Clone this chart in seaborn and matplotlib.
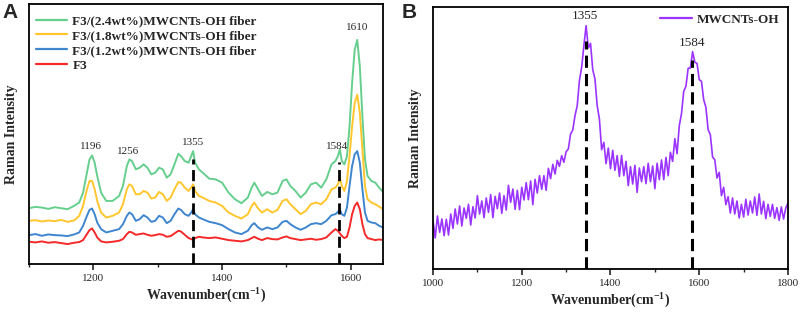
import numpy as np
import pandas as pd
import matplotlib
matplotlib.use("Agg")
import matplotlib.pyplot as plt
import seaborn as sns
from matplotlib.ticker import MultipleLocator

# ---------------- Panel A data ----------------
wn_A = [1100, 1110, 1120, 1130, 1140, 1150, 1160, 1170, 1178, 1184, 1190, 1194, 1198, 1202, 1206,
        1212, 1220, 1230, 1240, 1246, 1252, 1256, 1260, 1266, 1272, 1278, 1284, 1290, 1296, 1302,
        1308, 1314, 1320, 1326, 1332, 1336, 1342, 1348, 1352, 1355, 1358, 1364, 1370, 1380, 1390,
        1400, 1410, 1420, 1430, 1440, 1446, 1450, 1456, 1462, 1470, 1478, 1486, 1494, 1500, 1506,
        1514, 1522, 1530, 1538, 1546, 1554, 1562, 1570, 1576, 1580, 1583, 1586, 1590, 1594, 1598,
        1602, 1606, 1610, 1614, 1618, 1622, 1626, 1632, 1638, 1644, 1650]

green_A = [168, 172, 170, 166, 171, 168, 165, 175, 185, 215, 275, 315, 327, 305, 265,
           215, 190, 190, 205, 235, 295, 315, 310, 285, 290, 300, 290, 270, 275, 290,
           285, 260, 270, 300, 332, 325, 310, 305, 325, 340, 305, 285, 275, 257, 255,
           245, 215, 195, 183, 200, 230, 245, 225, 205, 217, 210, 215, 250, 255, 235,
           220, 200, 215, 240, 245, 230, 255, 300, 310, 325, 345, 310, 300, 325, 415,
           545, 645, 675, 595, 445, 315, 265, 250, 245, 230, 217]

yellow_A = [130, 132, 128, 131, 129, 133, 127, 131, 145, 175, 225, 250, 250, 225, 190,
            155, 140, 145, 155, 180, 225, 240, 235, 210, 210, 220, 215, 197, 200, 217,
            210, 190, 200, 225, 247, 245, 230, 220, 230, 240, 220, 205, 200, 190, 185,
            175, 155, 145, 137, 150, 175, 185, 167, 155, 165, 155, 163, 190, 195, 180,
            165, 150, 160, 180, 185, 180, 195, 225, 230, 240, 260, 235, 220, 250, 325,
            415, 485, 510, 455, 345, 235, 195, 185, 180, 173, 165]

blue_A = [87, 90, 85, 89, 87, 86, 84, 89, 95, 115, 145, 163, 167, 150, 125,
          105, 95, 100, 105, 120, 145, 155, 150, 130, 135, 147, 140, 127, 130, 145,
          140, 123, 130, 150, 167, 163, 150, 145, 155, 165, 150, 140, 135, 127, 123,
          117, 105, 95, 90, 100, 117, 123, 110, 103, 110, 105, 110, 127, 130, 120,
          110, 103, 110, 120, 123, 120, 130, 147, 150, 157, 163, 150, 145, 170, 235,
          295, 330, 340, 305, 225, 155, 130, 125, 123, 115, 110]

red_A = [67, 65, 68, 64, 66, 63, 60, 64, 66, 72, 90, 102, 107, 95, 80,
         68, 65, 67, 70, 75, 90, 97, 95, 88, 90, 92, 88, 85, 87, 90,
         88, 82, 84, 92, 100, 98, 88, 78, 75, 73, 78, 82, 80, 78, 80,
         76, 72, 70, 68, 72, 78, 82, 76, 72, 78, 75, 74, 80, 83, 78,
         75, 72, 74, 76, 73, 75, 80, 95, 105, 100, 92, 85, 78, 82, 110,
         150, 175, 185, 165, 120, 90, 78, 75, 72, 74, 72]

labels_A = ["F3/(2.4wt%)MWCNTs-OH fiber", "F3/(1.8wt%)MWCNTs-OH fiber",
            "F3/(1.2wt%)MWCNTs-OH fiber", "F3"]
colors_A = ["#66cf8e", "#ffc62e", "#3f86cf", "#f52a2a"]

peak_lines_A = [1355, 1582]
peak_line_tops_A = [315, 306]
peak_text_A = ["1196", "1256", "1355", "1584", "1610"]
peak_text_x_A = [1196, 1254, 1355, 1578, 1610]
peak_text_y_A = [355, 340, 367, 355, 713]

# ---------------- Panel B data ----------------
wn_B = list(range(1000, 1801, 5))
mw_B = [145, 93, 159, 110, 150, 100, 149, 102, 165, 122,
        180, 135, 189, 129, 183, 152, 194, 132, 187, 153,
        220, 165, 204, 154, 213, 170, 223, 154, 218, 181,
        228, 167, 220, 177, 251, 200, 240, 179, 236, 178,
        245, 207, 259, 208, 264, 193, 269, 228, 280, 239,
        280, 236, 302, 271, 314, 285, 326, 308, 340, 320,
        352, 360, 405, 417, 460, 490, 566, 605, 670, 730,
        663, 677, 598, 570, 490, 450, 358, 380, 316, 363,
        301, 356, 296, 340, 278, 341, 280, 323, 250, 307,
        255, 311, 230, 303, 262, 307, 256, 317, 262, 309,
        241, 317, 268, 327, 268, 335, 280, 350, 323, 391,
        346, 430, 466, 533, 548, 602, 603, 652, 620, 617,
        568, 563, 508, 485, 418, 403, 336, 328, 273, 290,
        220, 245, 193, 217, 168, 213, 165, 204, 153, 194,
        156, 209, 162, 204, 168, 216, 161, 225, 165, 203,
        151, 194, 158, 194, 152, 184, 146, 186, 150, 183,
        198]
label_B = "MWCNTs-OH"
color_B = "#9b34ff"

peak_lines_B = [1345, 1584]
peak_line_tops_B = [683, 628]
peak_text_B = ["1355", "1584"]
peak_text_x_B = [1343, 1584]
peak_text_y_B = [758, 678]

# ---------------- Figure ----------------
sns.set_style("ticks")
plt.rcParams["font.family"] = ["Liberation Serif", "DejaVu Serif"]
plt.rcParams["mathtext.fontset"] = "custom"
plt.rcParams["mathtext.rm"] = "Liberation Serif:bold"
plt.rcParams["mathtext.bf"] = "Liberation Serif:bold"
plt.rcParams["mathtext.default"] = "rm"

fig = plt.figure(figsize=(8.03, 3.14), dpi=100)
axA = fig.add_axes([29 / 803, 1 - 264 / 314, 354 / 803, 260 / 314])
axB = fig.add_axes([433 / 803, 1 - 269 / 314, 355 / 803, 262 / 314])

dfA = pd.DataFrame({
    "wn": wn_A * 4,
    "val": green_A + yellow_A + blue_A + red_A,
    "series": sum([[lab] * len(wn_A) for lab in labels_A], []),
})
sns.lineplot(data=dfA, x="wn", y="val", hue="series", hue_order=labels_A,
             palette=dict(zip(labels_A, colors_A)), ax=axA, linewidth=1.4,
             estimator=None, sort=False)

dfB = pd.DataFrame({"wn": wn_B, "val": mw_B, "series": [label_B] * len(wn_B)})
sns.lineplot(data=dfB, x="wn", y="val", hue="series", palette={label_B: color_B},
             ax=axB, linewidth=1.2, estimator=None, sort=False)

for x, top in zip(peak_lines_A, peak_line_tops_A):
    axA.plot([x, x], [0, top], color="black", lw=2.0, dashes=(4, 2), zorder=5)
for x, top in zip(peak_lines_B, peak_line_tops_B):
    axB.plot([x, x], [0, top], color="black", lw=2.2, dashes=(4, 2), zorder=5)

for t, x, y in zip(peak_text_A, peak_text_x_A, peak_text_y_A):
    axA.text(x, y, t, ha="center", va="center", fontsize=8)
for t, x, y in zip(peak_text_B, peak_text_x_B, peak_text_y_B):
    axB.text(x, y, t, ha="center", va="center", fontsize=9.5)

axA.set_xlim(1100, 1650)
axA.set_ylim(0, 783)
axB.set_xlim(1000, 1800)
axB.set_ylim(0, 786)

for ax in (axA, axB):
    ax.xaxis.set_major_locator(MultipleLocator(200))
    ax.xaxis.set_minor_locator(MultipleLocator(100))
    ax.set_yticks([])
    ax.tick_params(axis="x", which="major", direction="out", length=4, width=1.2,
                   labelsize=8, pad=3)
    ax.tick_params(axis="x", which="minor", direction="out", length=2, width=1.0)
    for sp in ax.spines.values():
        sp.set_visible(True)
        sp.set_linewidth(1.3)
        sp.set_color("black")
    ax.set_xlabel("Wavenumber(cm$^{-1}$)", fontsize=10, fontweight="bold", labelpad=3)
    ax.set_ylabel("Raman Intensity", fontsize=10, fontweight="bold", labelpad=8)

legA = axA.legend(loc="upper left", bbox_to_anchor=(0.02, 0.958), frameon=False,
                  prop={"family": "Liberation Serif", "weight": "bold", "size": 9.5},
                  handlelength=2.35, handletextpad=0.4, labelspacing=0.2,
                  borderaxespad=0, borderpad=0)
for line in legA.get_lines():
    line.set_linewidth(1.6)
legB = axB.legend(loc="upper right", bbox_to_anchor=(0.977, 0.975), frameon=False,
                  prop={"family": "Liberation Serif", "weight": "bold", "size": 9.5},
                  handlelength=2.4, handletextpad=0.4,
                  borderaxespad=0, borderpad=0)
for line in legB.get_lines():
    line.set_linewidth(1.6)

fig.text(2 / 803, 1 - 3 / 314, "A", ha="left", va="top", fontsize=15,
         fontweight="bold", family="Liberation Sans")
fig.text(402 / 803, 1 - 3 / 314, "B", ha="left", va="top", fontsize=15,
         fontweight="bold", family="Liberation Sans")

fig.savefig("out.png", dpi=100)
